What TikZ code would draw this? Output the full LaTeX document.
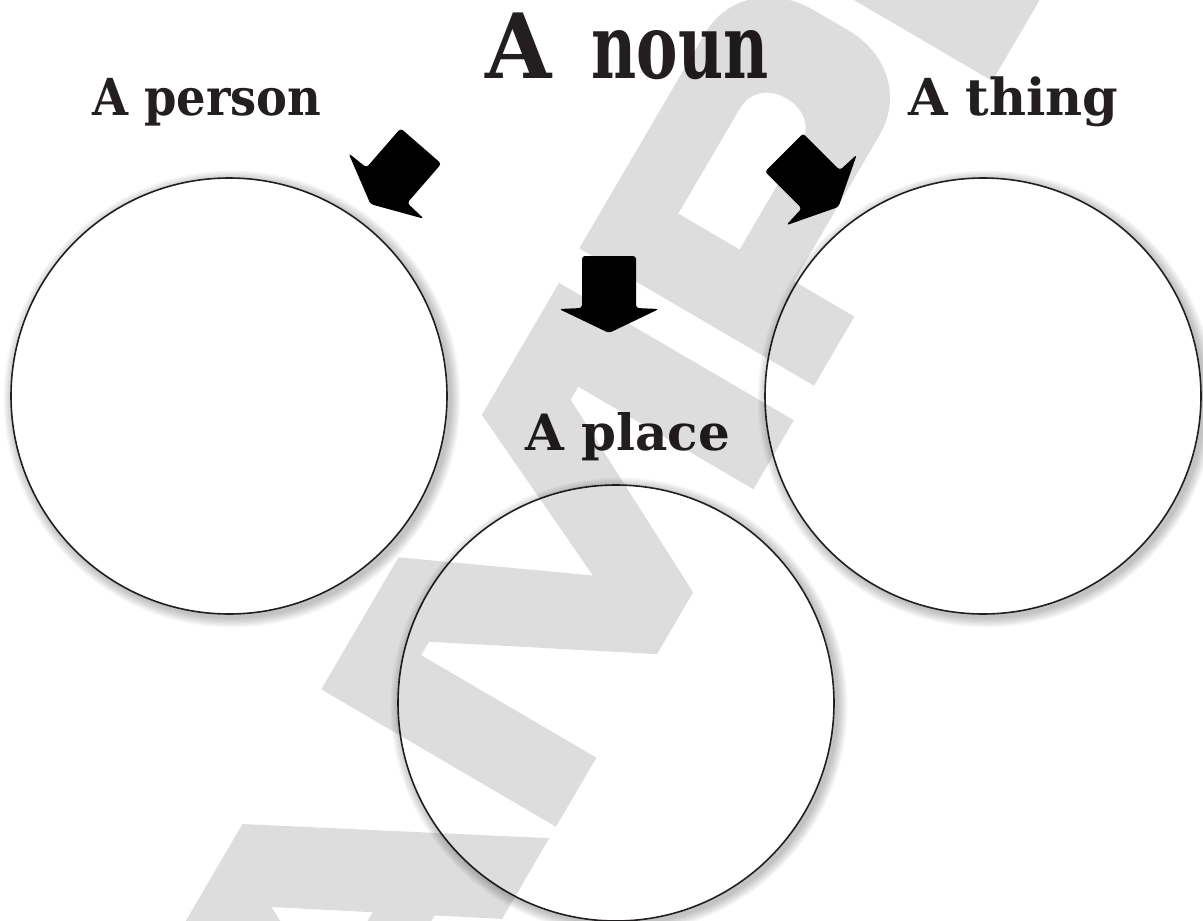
\documentclass[tikz,border=0pt]{standalone}
\usepackage{fontspec}
\setmainfont{DejaVu Serif}
\newfontfamily\titleA{DejaVu Serif}[FakeStretch=0.95]
\newfontfamily\titleB{DejaVu Serif}[FakeStretch=0.69]
\newfontfamily\narrowfont{DejaVu Serif}[FakeStretch=0.91]
\definecolor{ink}{HTML}{231F20}
\begin{document}
\begin{tikzpicture}[x=1pt,y=-1pt,
  lab/.style={text=ink, inner sep=0pt, anchor=base west},
  bubble/.style={circle, draw=ink, line width=1.6pt, fill=white, minimum size=436pt, inner sep=0pt},
  arrowfill/.style={fill=black, rounded corners=3pt},
  wm/.style={fill=black, opacity=0.135, even odd rule},
  halo/.style={fill=black, opacity=0.03}]
\useasboundingbox (0,0) rectangle (1203,921);
\fill[white] (0,0) rectangle (1203,921);

% soft shadows
\foreach \cx/\cy in {229/396, 983/396, 616/703}{
  \foreach \k in {1,...,8}{
    \fill[halo] (\cx+3,\cy+3) circle[radius={218+\k*1.3}];
  }
}

% circles
\node[bubble] (cperson) at (229,396) {};
\node[bubble] (cthing) at (983,396) {};
\node[bubble] (cplace) at (616,703) {};

% labels
\node[lab, font=\bfseries\fontsize{90}{90}\selectfont] (title) at (485,78) {{\titleA A}\hspace{40pt}{\titleB noun}};
\node[lab, font=\narrowfont\bfseries\fontsize{51}{51}\selectfont] (person) at (92,115) {A person};
\node[lab, font=\bfseries\fontsize{51}{51}\selectfont] (thing) at (908,115) {A thing};
\node[lab, font=\bfseries\fontsize{50}{50}\selectfont] (place) at (525,450) {A place};

% block arrows
\foreach \px/\py/\ang in {421/146/-41, 609/256/0, 784/152.5/45}{
  \begin{scope}[shift={(\px,\py)}, x=1pt, y=1pt, rotate=\ang]
    \fill[arrowfill] (-27,0) -- (27,0) -- (27,-52) -- (50,-53) -- (0,-77) -- (-50,-53) -- (-27,-52) -- cycle;
  \end{scope}
}

% watermark
\begin{scope}
\clip (0,0) rectangle (1203,921);
\begin{scope}[shift={(556,826.7)}, x=1pt, y=1pt, rotate=59.67]
  \fill[wm] (-412.7,0) -- (-270,272) -- (-156,272) -- (-13.3,0) -- (-106.8,0) -- (-137.9,60) -- (-288.1,60) -- (-319.2,0) -- cycle
    (-213,205) -- (-166.4,115) -- (-259.6,115) -- cycle;
  \fill[wm] (0,0) -- (0,272) -- (153,272) -- (235.5,95) -- (318,272) -- (471,272) -- (471,0) -- (391,0) -- (391,203) -- (376,203) -- (271.5,0) -- (200,0) -- (95.5,203) -- (80,203) -- (80,0) -- cycle;
  \fill[wm] (511,0) -- (511,272) -- (760,272) .. controls (805,272) and (835,235) .. (835,190) -- (835,150) .. controls (835,105) and (805,70) .. (760,70) -- (591,70) -- (591,0) -- cycle
    (591,133) -- (591,204) -- (712,204) .. controls (732,204) and (745,190) .. (745,168.5) .. controls (745,147) and (732,133) .. (712,133) -- cycle;
  \fill[wm] (864,0) -- (864,272) -- (944,272) -- (944,75) -- (1120,75) -- (1120,0) -- cycle;
\end{scope}
\end{scope}
\end{tikzpicture}
\end{document}
